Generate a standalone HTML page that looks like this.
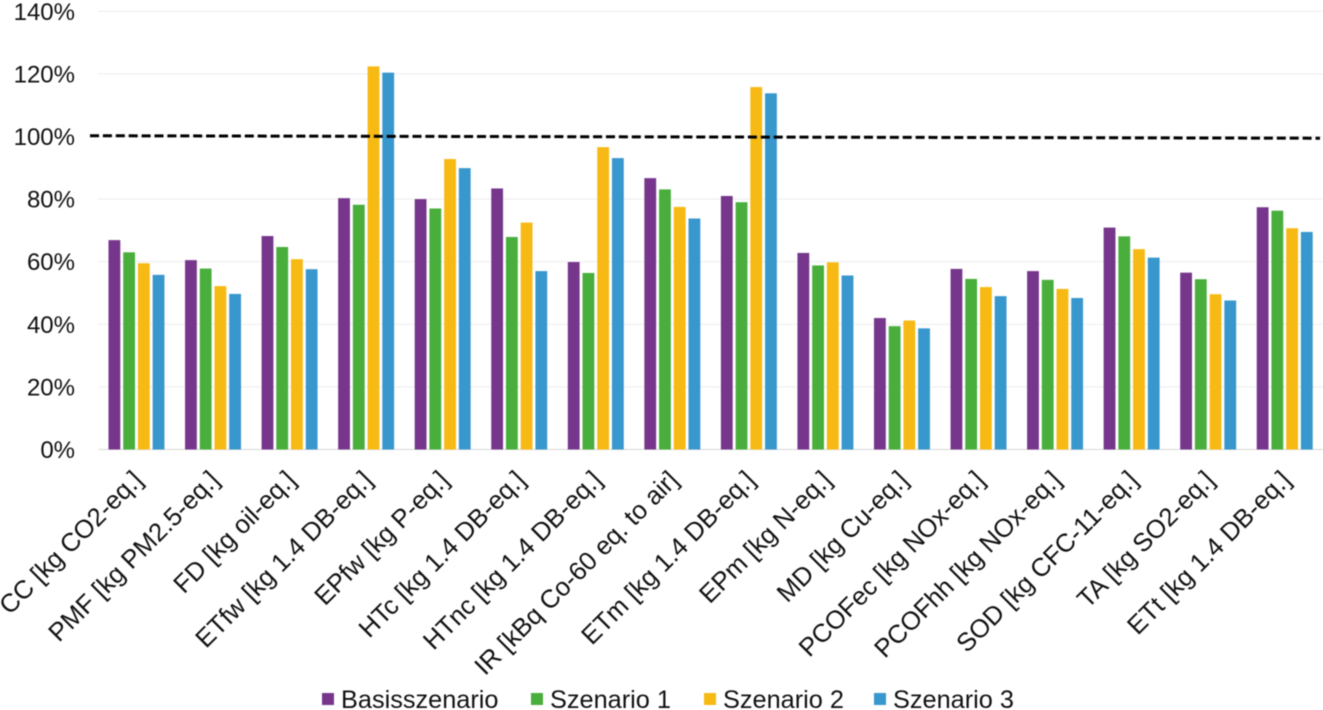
<!DOCTYPE html>
<html lang="de">
<head>
<meta charset="utf-8">
<title>Szenariovergleich</title>
<style>
html,body{margin:0;padding:0;background:#fff;width:1323px;height:710px;overflow:hidden}
svg{display:block;font-family:"Liberation Sans",sans-serif;filter:blur(0.45px)}
text{fill:#111}
</style>
</head>
<body>
<svg id="chart" width="1323" height="710" viewBox="0 0 1323 710" xmlns="http://www.w3.org/2000/svg"></svg>
<script>
const categories = ["CC [kg CO2-eq.]","PMF [kg PM2.5-eq.]","FD [kg oil-eq.]","ETfw [kg 1.4 DB-eq.]","EPfw [kg P-eq.]","HTc [kg 1.4 DB-eq.]","HTnc [kg 1.4 DB-eq.]","IR [kBq Co-60 eq. to air]","ETm [kg 1.4 DB-eq.]","EPm [kg N-eq.]","MD [kg Cu-eq.]","PCOFec [kg NOx-eq.]","PCOFhh [kg NOx-eq.]","SOD [kg CFC-11-eq.]","TA [kg SO2-eq.]","ETt [kg 1.4 DB-eq.]"];
const seriesNames = ["Basisszenario","Szenario 1","Szenario 2","Szenario 3"];
const basisszenario = [66.9,60.5,68.2,80.3,80.0,83.4,59.9,86.7,81.0,62.8,42.0,57.7,57.0,70.9,56.5,77.4];
const szenario1 = [63.0,57.8,64.7,78.2,77.0,67.9,56.4,83.1,79.0,58.8,39.4,54.5,54.2,68.1,54.4,76.3];
const szenario2 = [59.5,52.2,60.8,122.4,92.8,72.5,96.6,77.5,115.8,59.8,41.2,51.9,51.3,64.0,49.6,70.7];
const szenario3 = [55.8,49.7,57.6,120.4,89.9,57.0,93.1,73.8,113.8,55.6,38.7,49.0,48.4,61.3,47.6,69.5];
const seriesValues = [basisszenario,szenario1,szenario2,szenario3];
const seriesColors = ["#76368c","#49ae3c","#f7b913","#3897cc"];
const yTicks = [0,20,40,60,80,100,120,140];
const referenceStart = 100.25;
const referenceEnd = 99.45;

const svgNS = "http://www.w3.org/2000/svg";
const chart = document.getElementById("chart");
const plotLeft = 98.2, plotRight = 1323, yZero = 449.5, yTop = 11.3, yMax = 140;
const barWidth = 11.8, barPitch = 14.72;
const bandWidth = (plotRight - plotLeft) / categories.length;
const yScale = v => yZero - (v / yMax) * (yZero - yTop);
const bandCenter = i => plotLeft + bandWidth * (i + 0.5);
const barX = (i, s) => bandCenter(i) - (seriesNames.length * barPitch - (barPitch - barWidth)) / 2 + s * barPitch;

function make(tag, attrs, parent) {
  const el = document.createElementNS(svgNS, tag);
  for (const k in attrs) el.setAttribute(k, attrs[k]);
  (parent || chart).appendChild(el);
  return el;
}

// Gridlines and y tick labels
yTicks.forEach(t => {
  const y = yScale(t);
  const line = make("line", {x1: plotLeft, x2: plotRight, y1: y, y2: y, stroke: t === 0 ? "#dedede" : "#efefef", "stroke-width": 1.2});
  
  
  const label = make("text", {x: 75, y: y + 8.5, "text-anchor": "end", "font-size": 24});
  label.textContent = t + "%";
  
  
});

// Bars
seriesValues.forEach((vals, s) => {
  vals.forEach((v, i) => {
    const y = yScale(v);
    const bar = make("rect", {x: barX(i, s), y: y, width: barWidth, height: yZero - y, fill: seriesColors[s]});
    
    
  });
});

// Reference line at 100%
const refLine = make("line", {x1: 90, x2: 1320, y1: yScale(referenceStart), y2: yScale(referenceEnd), stroke: "#000", "stroke-width": 3, "stroke-dasharray": "9 3.9"});



// Category labels
categories.forEach((c, i) => {
  const x = bandCenter(i) + 7.5;
  const y = 481.5;
  const label = make("text", {x: x, y: y, "text-anchor": "end", "font-size": 25.7, transform: "rotate(-45 " + x + " " + y + ")"});
  label.textContent = c;
  
  
});

// Legend
const legendSwatchX = [322, 531, 704, 874];
seriesNames.forEach((n, s) => {
  const g = make("g", {});
  
  
  const swatch = make("rect", {x: legendSwatchX[s], y: 693, width: 12, height: 12, fill: seriesColors[s]}, g);
  
  
  const text = make("text", {x: legendSwatchX[s] + 19, y: 708, "font-size": 25.3}, g);
  text.textContent = n;
  
  
});
</script>
</body>
</html>
